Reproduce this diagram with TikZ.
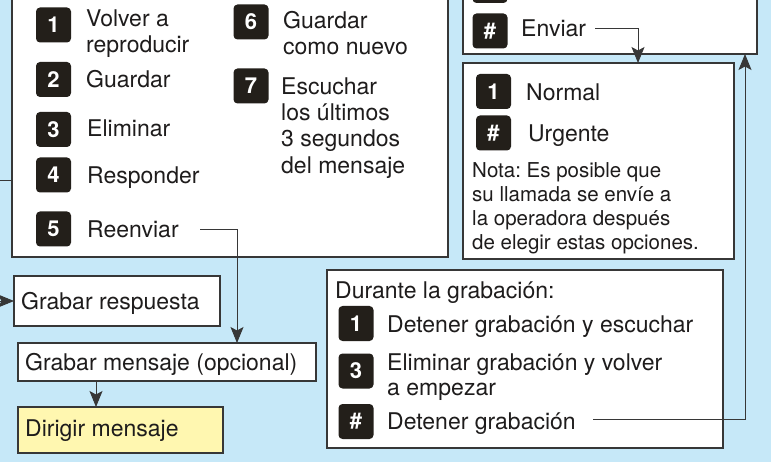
\documentclass[tikz,border=0pt]{standalone}
\usepackage{fontspec}
\setmainfont{TeX Gyre Heros}
\usetikzlibrary{arrows.meta}
\definecolor{bgblue}{RGB}{198,232,248}
\definecolor{badgec}{RGB}{35,31,26}
\definecolor{linec}{RGB}{55,55,55}
\definecolor{yel}{RGB}{255,247,176}
\definecolor{textc}{RGB}{30,28,28}
\frenchspacing
\begin{document}
\begin{tikzpicture}[x=1pt,y=-1pt,
  panel/.style={draw=linec, line width=1.1pt, fill=white, inner sep=0pt, outer sep=0pt, anchor=north west},
  badge/.style={fill=badgec, rounded corners=4pt, minimum width=35pt, minimum height=35pt, inner sep=0pt, text=white, font=\fontsize{22}{22}\selectfont\bfseries},
  lbl/.style={anchor=base west, inner sep=0pt, text=textc, font=\fontsize{23}{26}\selectfont},
  note/.style={anchor=base west, inner sep=0pt, text=textc, font=\fontsize{20.5}{24}\selectfont},
  conn/.style={draw=linec, line width=0.9pt},
  arr/.style={conn, -{Stealth[length=16pt,width=13pt,inset=3.5pt]}},
]
\useasboundingbox (0,0) rectangle (771,462);
\begin{scope}
\clip (0,0) rectangle (771,462);
\fill[bgblue] (0,0) rectangle (771,462);

% panels
\node[panel, minimum width=436pt, minimum height=287pt] (main) at (12,-30) {};
\node[panel, minimum width=294pt, minimum height=134pt] (topbox) at (463,-80) {};
\node[panel, minimum width=271pt, minimum height=196pt] (normal) at (463,63) {};
\node[panel, minimum width=396pt, minimum height=178pt] (durante) at (327,270) {};
\node[panel, minimum width=206pt, minimum height=50pt] (gr) at (14,276) {};
\node[panel, minimum width=298pt, minimum height=38pt] (gm) at (18,343) {};
\node[panel, fill=yel, minimum width=205pt, minimum height=46pt] (dm) at (18,407) {};

% main box items
\node[badge] (b1) at (53.5,25) {1};
\node[lbl] (t1a) at (86,27) {Volver a};
\node[lbl] (t1b) at (86,53) {reproducir};
\node[badge] (b2) at (53.5,79.5) {2};
\node[lbl] (t2) at (86,88) {Guardar};
\node[badge] (b3) at (53.5,129.5) {3};
\node[lbl] (t3) at (87,137) {Eliminar};
\node[badge] (b4) at (53.5,175) {4};
\node[lbl] (t4) at (87,184) {Responder};
\node[badge] (b5) at (53.5,229) {5};
\node[lbl] (t5) at (87,238) {Reenviar};
\node[badge] (b6) at (251,22) {6};
\node[lbl] (t6a) at (283,29) {Guardar};
\node[lbl] (t6b) at (283,55) {como nuevo};
\node[badge] (b7) at (251,86) {7};
\node[lbl] (t7a) at (281,95) {Escuchar};
\node[lbl] (t7b) at (281,121) {los últimos};
\node[lbl] (t7c) at (281,147) {3 segundos};
\node[lbl] (t7d) at (281,174) {del mensaje};

% top right box
\node[badge] (bprev) at (490,-14.5) {};
\node[badge] (bsend) at (490,31) {\#};
\node[lbl] (enviar) at (521,37) {Enviar};

% normal box
\node[badge] (bn1) at (493.5,91.5) {1};
\node[lbl] (tn1) at (526,101) {Normal};
\node[badge] (bn2) at (493.5,133) {\#};
\node[lbl] (tn2) at (528,142) {Urgente};
\node[note] (n1) at (472,178) {Nota: Es posible que};
\node[note] (n2) at (472,202) {su llamada se envíe a};
\node[note] (n3) at (472,226) {la operadora después};
\node[note] (n4) at (472,250) {de elegir estas opciones.};

% durante box
\node[lbl] (dt) at (335,299) {Durante la grabación:};
\node[badge] (bd1) at (356,323.5) {1};
\node[lbl] (td1) at (387,332) {Detener grabación y escuchar};
\node[badge] (bd3) at (356,371) {3};
\node[lbl] (td3a) at (387,370) {Eliminar grabación y volver};
\node[lbl] (td3b) at (387,395) {a empezar};
\node[badge] (bd4) at (356,421.5) {\#};
\node[lbl] (td4) at (387,429) {Detener grabación};

% left boxes texts
\node[lbl] (tgr) at (21,309) {Grabar respuesta};
\node[lbl] (tgm) at (25,370) {Grabar mensaje (opcional)};
\node[lbl] (tdm) at (25,436) {Dirigir mensaje};

% connectors
\coordinate (e1) at (595,28);
\coordinate (e2) at (638,0);
\draw[arr] (e1) -| (e2 |- normal.north);
\coordinate (d1) at (593,419);
\coordinate (d2) at (745,0);
\draw[arr] (d1) -| (d2 |- topbox.south);
\coordinate (r1) at (200,229);
\coordinate (r2) at (237,0);
\draw[arr] (r1) -| (r2 |- gm.north);
\coordinate (g1) at (96,0);
\draw[arr] (g1 |- gm.south) -- (g1 |- dm.north);
\coordinate (lin) at (-2,301);
\draw[arr] (lin) -- (lin -| gr.west);
\coordinate (lout) at (0,180);
\draw[conn] (lout) -- (lout -| main.west);
\end{scope}
\end{tikzpicture}
\end{document}
